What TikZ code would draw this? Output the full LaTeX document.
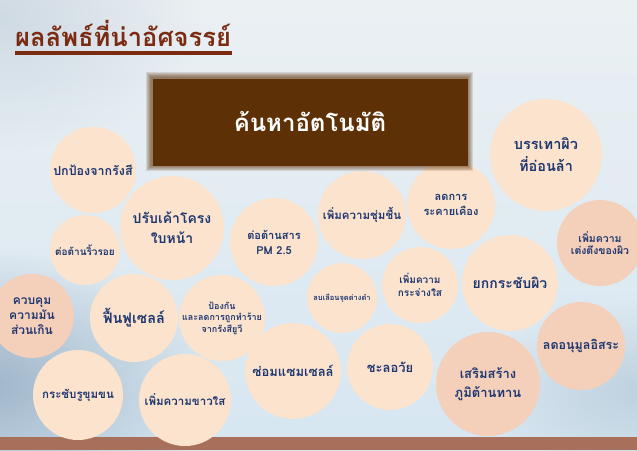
\documentclass[tikz,border=0pt]{standalone}
\usepackage{fontspec}
\newfontfamily\thaifont[Script=Thai]{Loma}
\usepackage{tikz}
\usetikzlibrary{positioning,fadings}
\usepackage{xcolor}
\definecolor{peach}{HTML}{FBE3CD}
\definecolor{pinkish}{HTML}{F4CFBA}
\definecolor{navy}{HTML}{1E3770}
\definecolor{titlered}{HTML}{7B2B12}
\definecolor{boxbrown}{HTML}{5E3006}
\definecolor{floorbrown}{HTML}{A8705A}
\definecolor{skytop}{HTML}{EBF0F3}
\definecolor{skymid}{HTML}{F8F6F3}
\definecolor{skylow}{HTML}{D6E6F1}
\definecolor{shadeblue}{HTML}{8FA7BE}

\tikzfading[name=softspot, inner color=transparent!0, outer color=transparent!100]

\begin{document}
\begin{tikzpicture}[x=1pt, y=-1pt,
    bub/.style={circle, fill=peach, text=navy, align=center, inner sep=0pt},
    pinkbub/.style={bub, fill=pinkish},
    big/.style={font=\thaifont\bfseries\fontsize{14}{20}\selectfont},
    mid/.style={font=\thaifont\bfseries\fontsize{11.5}{15}\selectfont},
    small/.style={font=\thaifont\bfseries\fontsize{10}{12.5}\selectfont},
    tiny/.style={font=\thaifont\bfseries\fontsize{7.5}{9}\selectfont}]
    % background
    \useasboundingbox (0,0) rectangle (637,450);
    \shade[top color=skytop, middle color=skymid, bottom color=skylow] (0,0) rectangle (637,450);
    \fill[shadeblue, opacity=0.3, path fading=softspot] (-200,-120) rectangle (200,150);
    \fill[shadeblue, opacity=0.8, path fading=softspot] (-260,250) rectangle (220,520);
    \fill[shadeblue, opacity=0.35, path fading=softspot] (480,300) rectangle (800,480);
    \fill[floorbrown] (0,437) rectangle (637,450);

    % title
    \node[anchor=west, inner sep=0pt, text=titlered, font=\thaifont\bfseries\fontsize{25.5}{30}\selectfont] (title) at (15,33) {ผลลัพธ์ที่น่าอัศจรรย์};
    \draw[titlered, line width=3.5pt] (15,53) -- (232,53);

    % bubbles
    \node[bub, mid, font=\thaifont\bfseries\fontsize{12.5}{15}\selectfont, minimum size=86] (uv) at (93,170) {ปกป้องจากรังสี};
    \node[bub, big, minimum size=104] (face) at (172,228) {ปรับเค้าโครง\\ใบหน้า};
    \node[bub, small, minimum size=70] (wrinkle) at (85,250) {ต่อต้านริ้วรอย};
    \node[bub, mid, font=\thaifont\bfseries\fontsize{11}{15}\selectfont, minimum size=88] (pm) at (274,242) {ต่อต้านสาร\\PM 2.5};
    \node[bub, mid, minimum size=88] (moist) at (362,215) {เพิ่มความชุ่มชื้น};
    \node[bub, mid, font=\thaifont\bfseries\fontsize{11}{15}\selectfont, minimum size=88] (irritate) at (451,205) {ลดการ\\ระคายเคือง};
    \node[bub, big, font=\thaifont\bfseries\fontsize{14.5}{22}\selectfont, minimum size=112] (tired) at (546,155) {บรรเทาผิว\\ที่อ่อนล้า};
    \node[pinkbub, small, font=\thaifont\bfseries\fontsize{10.5}{12.5}\selectfont, minimum size=86] (firm) at (600,243) {เพิ่มความ\\เต่งตึงของผิว};
    \node[pinkbub, mid, font=\thaifont\bfseries\fontsize{12}{15}\selectfont, minimum size=84] (oil) at (32,316) {ควบคุม\\ความมัน\\ส่วนเกิน};
    \node[bub, big, font=\thaifont\bfseries\fontsize{14.5}{20}\selectfont, minimum size=88] (cell) at (134,318) {ฟื้นฟูเซลล์};
    \node[bub, small, font=\thaifont\bfseries\fontsize{9}{11.5}\selectfont, minimum size=80] (protect) at (222,318) {ป้องกัน\\และลดการถูกทำร้าย\\จากรังสียูวี};
    \node[bub, tiny, minimum size=70] (spot) at (342,298) {ลบเลือนจุดด่างดำ};
    \node[bub, small, minimum size=76] (bright) at (420,285) {เพิ่มความ\\กระจ่างใส};
    \node[bub, big, minimum size=96] (lift) at (510,283) {ยกกระชับผิว};
    \node[pinkbub, mid, font=\thaifont\bfseries\fontsize{12.5}{15}\selectfont, minimum size=88] (radical) at (581,346) {ลดอนุมูลอิสระ};
    \node[bub, mid, minimum size=90] (pore) at (78,395) {กระชับรูขุมขน};
    \node[bub, mid, minimum size=92] (white) at (185,400) {เพิ่มความขาวใส};
    \node[bub, big, font=\thaifont\bfseries\fontsize{13}{20}\selectfont, minimum size=96] (repair) at (293,371) {ซ่อมแซมเซลล์};
    \node[bub, big, font=\thaifont\bfseries\fontsize{13}{20}\selectfont, minimum size=86] (age) at (390,367) {ชะลอวัย};
    \node[pinkbub, big, font=\thaifont\bfseries\fontsize{13}{19}\selectfont, minimum size=104] (immune) at (488,384) {เสริมสร้าง\\ภูมิต้านทาน};

    % search box, soft edge
    \foreach \d in {1,...,6}
        \fill[boxbrown, opacity=0.14] (152-\d,78-\d) rectangle (467+\d,165+\d);
    \node[fill=boxbrown, minimum width=315pt, minimum height=87pt, text=white, font=\thaifont\bfseries\fontsize{24}{28}\selectfont] (search) at (310,122) {ค้นหาอัตโนมัติ};
\end{tikzpicture}
\end{document}
